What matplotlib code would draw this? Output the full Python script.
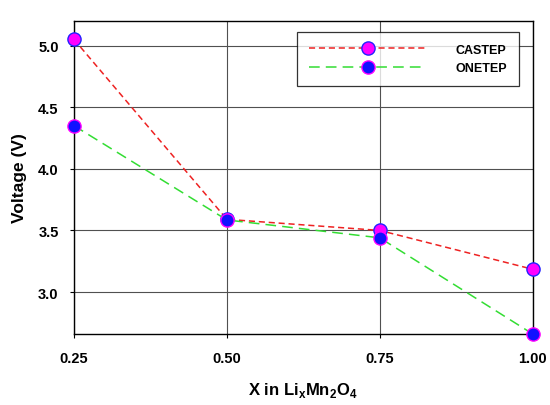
import matplotlib
matplotlib.use("Agg")
import matplotlib.pyplot as plt

# Li content vs voltage for the two codes
x_li = [0.25, 0.50, 0.75, 1.00]
castep_v = [5.05, 3.59, 3.50, 3.185]
onetep_v = [4.35, 3.585, 3.44, 2.66]
x_ticks = [0.25, 0.50, 0.75, 1.00]
x_tick_labels = ["0.25", "0.50", "0.75", "1.00"]
y_ticks = [3.0, 3.5, 4.0, 4.5, 5.0]
y_tick_labels = ["3.0", "3.5", "4.0", "4.5", "5.0"]

plt.rcParams["font.family"] = ["Liberation Sans", "DejaVu Sans"]
plt.rcParams["font.weight"] = "bold"
plt.rcParams["mathtext.fontset"] = "custom"
plt.rcParams["mathtext.rm"] = "Liberation Sans:bold"
plt.rcParams["mathtext.bf"] = "Liberation Sans:bold"

fig = plt.figure(figsize=(5.5, 4.06), dpi=100)
ax = fig.add_axes([0.1345, 0.175, 0.834, 0.771])

ax.grid(True, color="#505050", linewidth=0.8)
ax.set_axisbelow(True)

ax.plot(x_li, castep_v, color="#ee2222", linewidth=1.1, dashes=(4, 2.5),
        marker="o", markersize=9.5, markerfacecolor="#ff00ff",
        markeredgecolor="#2222ff", markeredgewidth=1.0,
        label="CASTEP", clip_on=False, zorder=3)
ax.plot(x_li, onetep_v, color="#33dd33", linewidth=1.1, dashes=(7, 4),
        marker="o", markersize=9.5, markerfacecolor="#1111ff",
        markeredgecolor="#ff00ff", markeredgewidth=1.0,
        label="ONETEP", clip_on=False, zorder=4)

ax.set_xlim(0.25, 1.00)
ax.set_ylim(2.66, 5.2)
ax.set_xticks(x_ticks)
ax.set_xticklabels(x_tick_labels)
ax.set_yticks(y_ticks)
ax.set_yticklabels(y_tick_labels)
ax.tick_params(axis="both", labelsize=10.5, length=3, width=0.8, direction="out")
ax.tick_params(axis="x", pad=9)
ax.tick_params(axis="y", pad=8)
for s in ax.spines.values():
    s.set_linewidth(1.0)
    s.set_color("black")

ax.set_xlabel(r"X in Li$_\mathrm{x}$Mn$_\mathrm{2}$O$_\mathrm{4}$",
              fontsize=12, fontweight="bold", labelpad=11)
ax.set_ylabel("Voltage (V)", fontsize=12.5, fontweight="bold", labelpad=8)

leg = ax.legend(loc="upper right", bbox_to_anchor=(0.9695, 0.965),
                numpoints=1, handlelength=9.4, handletextpad=2.3,
                fontsize=9, frameon=True, fancybox=False, borderpad=0.95,
                labelspacing=0.5, borderaxespad=0.0)
leg.get_frame().set_edgecolor("black")
leg.get_frame().set_linewidth(0.9)

fig.savefig("out.png", dpi=100)
